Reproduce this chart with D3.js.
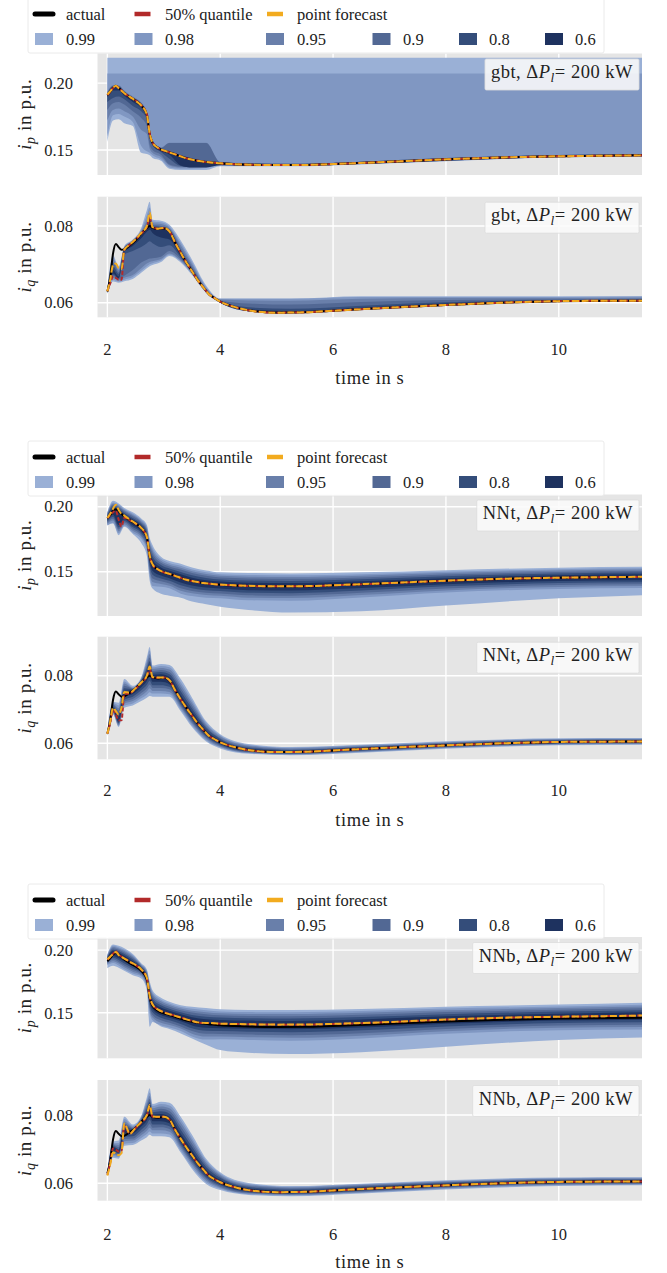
<!DOCTYPE html>
<html>
<head>
<meta charset="utf-8">
<script src="https://cdn.jsdelivr.net/npm/d3@7"></script>
<style>
  body { margin: 0; background: #fff; }
  svg { display: block; }
  text { font-family: "Liberation Serif", "DejaVu Serif", serif; fill: #222; }
</style>
</head>
<body>
<svg id="chart" width="667" height="1273"></svg>
<script>
// ---------------------------------------------------------------------------
// Data
// ---------------------------------------------------------------------------
const models = ["gbt", "NNt", "NNb"];
const levels = ["0.99", "0.98", "0.95", "0.9", "0.8", "0.6"];
const timeLimits = [1.825, 11.475];
const timeTicks = [2, 4, 6, 8, 10];
const ipTicks = [0.15, 0.20];
const iqTicks = [0.06, 0.08];
const ipLimits = [[0.1313, 0.2222], [0.1159, 0.2094], [0.1136, 0.2105]];
const iqLimits = [[0.05619, 0.08764], [0.05527, 0.09154], [0.0549, 0.09025]];

// time stamps of the trajectories (s)
const lineTime = [2.0, 2.05, 2.1, 2.15, 2.2, 2.25, 2.3, 2.4, 2.5, 2.6, 2.7, 2.75, 2.8, 2.9, 3.0, 3.1, 3.2, 3.3, 3.4, 3.5,
  3.6, 3.7, 3.8, 3.9, 4.0, 4.25, 4.5, 5.0, 5.5, 6.0, 7.0, 8.0, 9.0, 10.0, 11.0, 11.5];

const ipActual = [0.1912, 0.1935, 0.1965, 0.198, 0.1965, 0.1945, 0.1925, 0.1895, 0.187, 0.1835, 0.1765, 0.162, 0.1555, 0.1515, 0.1495, 0.1482, 0.1468, 0.1452, 0.1438, 0.1428,
  0.142, 0.1413, 0.1408, 0.1404, 0.140, 0.1394, 0.139, 0.1387, 0.1388, 0.1395, 0.1412, 0.143, 0.1444, 0.1453, 0.1458, 0.146];
const iqActual = [0.0629, 0.0665, 0.0728, 0.0753, 0.0745, 0.0738, 0.0739, 0.075, 0.0763, 0.078, 0.0795, 0.08, 0.0795, 0.0792, 0.0794, 0.0786, 0.0757, 0.073, 0.0705, 0.0682,
  0.0659, 0.064, 0.0622, 0.0612, 0.0603, 0.0589, 0.058, 0.0574, 0.0575, 0.0579, 0.0587, 0.0594, 0.06, 0.0604, 0.0605, 0.0605];

const gbtIpMedian = [0.1912, 0.1935, 0.1963, 0.1978, 0.1965, 0.1945, 0.1925, 0.1895, 0.187, 0.1835, 0.1768, 0.1625, 0.1555, 0.1515, 0.1495, 0.1482, 0.1468, 0.1452, 0.1438, 0.1428,
  0.142, 0.1413, 0.1408, 0.1404, 0.140, 0.1394, 0.139, 0.1387, 0.1388, 0.1395, 0.1412, 0.143, 0.1444, 0.1453, 0.1458, 0.146];
const gbtIpPoint = [0.1915, 0.1938, 0.1965, 0.198, 0.1963, 0.1943, 0.1925, 0.1897, 0.1868, 0.1833, 0.1765, 0.1622, 0.1557, 0.1515, 0.1497, 0.1482, 0.1467, 0.1452, 0.1437, 0.1428,
  0.142, 0.1413, 0.1408, 0.1404, 0.140, 0.1394, 0.139, 0.1387, 0.1388, 0.1395, 0.1412, 0.143, 0.1444, 0.1453, 0.1458, 0.146];
const gbtIqMedian = [0.063, 0.065, 0.0668, 0.0665, 0.066, 0.066, 0.0738, 0.0752, 0.0765, 0.078, 0.0798, 0.082, 0.0797, 0.0793, 0.0795, 0.0786, 0.0757, 0.073, 0.0705, 0.0682,
  0.0659, 0.064, 0.0622, 0.0612, 0.0603, 0.0589, 0.058, 0.0574, 0.0575, 0.0579, 0.0587, 0.0594, 0.06, 0.0604, 0.0605, 0.0605];
const gbtIqPoint = [0.063, 0.066, 0.0698, 0.0702, 0.069, 0.0688, 0.0738, 0.0752, 0.0765, 0.0782, 0.08, 0.0835, 0.0797, 0.0793, 0.0795, 0.0786, 0.0757, 0.073, 0.0705, 0.0682,
  0.0659, 0.064, 0.0622, 0.0612, 0.0603, 0.0589, 0.058, 0.0574, 0.0575, 0.0579, 0.0587, 0.0594, 0.06, 0.0604, 0.0605, 0.0605];

const nntIpMedian = [0.1912, 0.1935, 0.1958, 0.1968, 0.19, 0.1848, 0.1915, 0.1895, 0.187, 0.1835, 0.1765, 0.162, 0.1555, 0.1515, 0.1495, 0.1482, 0.1468, 0.1452, 0.1438, 0.1428,
  0.142, 0.1413, 0.1408, 0.1404, 0.140, 0.1394, 0.139, 0.1387, 0.1388, 0.1395, 0.1412, 0.143, 0.1444, 0.1453, 0.1458, 0.146];
const nntIpPoint = [0.1915, 0.1945, 0.1985, 0.2015, 0.1975, 0.1945, 0.1932, 0.19, 0.1872, 0.1837, 0.1768, 0.1625, 0.1557, 0.1517, 0.1496, 0.1483, 0.1468, 0.1452, 0.1438, 0.1428,
  0.142, 0.1413, 0.1408, 0.1404, 0.1401, 0.1395, 0.1391, 0.1388, 0.1389, 0.1396, 0.1413, 0.1431, 0.1445, 0.1454, 0.1459, 0.1461];
const nntIqMedian = [0.0628, 0.066, 0.0698, 0.0685, 0.0668, 0.0668, 0.0745, 0.0748, 0.0762, 0.0778, 0.0798, 0.0818, 0.0795, 0.0794, 0.0795, 0.0786, 0.0757, 0.073, 0.0705, 0.0682,
  0.0659, 0.064, 0.0622, 0.0612, 0.0603, 0.0589, 0.058, 0.0574, 0.0575, 0.0579, 0.0587, 0.0594, 0.06, 0.0604, 0.0605, 0.0605];
const nntIqPoint = [0.0628, 0.0665, 0.0705, 0.0695, 0.0685, 0.0705, 0.0752, 0.075, 0.0763, 0.078, 0.08, 0.0827, 0.0796, 0.0795, 0.0795, 0.0787, 0.0757, 0.073, 0.0705, 0.0682,
  0.0659, 0.064, 0.0622, 0.0612, 0.0603, 0.0589, 0.058, 0.0574, 0.0575, 0.0579, 0.0587, 0.0594, 0.06, 0.0604, 0.0605, 0.0605];

const nnbIpMedian = [0.1925, 0.1945, 0.1972, 0.1992, 0.1965, 0.1947, 0.1935, 0.1905, 0.188, 0.1845, 0.1775, 0.163, 0.1565, 0.1525, 0.1505, 0.149, 0.1476, 0.1462, 0.1448, 0.1435,
  0.1422, 0.1418, 0.1418, 0.1416, 0.1413, 0.141, 0.1408, 0.1405, 0.1405, 0.141, 0.1425, 0.1445, 0.146, 0.1468, 0.1474, 0.1478];
const nnbIpPoint = [0.1928, 0.1948, 0.1968, 0.1985, 0.1962, 0.1945, 0.1933, 0.1907, 0.1882, 0.1847, 0.1778, 0.1635, 0.1567, 0.1525, 0.1503, 0.1488, 0.1475, 0.1461, 0.1447, 0.1434,
  0.1423, 0.1419, 0.1418, 0.1416, 0.1413, 0.141, 0.1408, 0.1405, 0.1406, 0.1411, 0.1426, 0.1446, 0.146, 0.1468, 0.1474, 0.1478];
const nnbIqMedian = [0.0625, 0.066, 0.0702, 0.0698, 0.0693, 0.0695, 0.0768, 0.0745, 0.0762, 0.0778, 0.0798, 0.0825, 0.0795, 0.0794, 0.0795, 0.0786, 0.0757, 0.073, 0.0705, 0.0682,
  0.0659, 0.064, 0.0622, 0.0612, 0.0603, 0.0589, 0.058, 0.0574, 0.0575, 0.0579, 0.0587, 0.0594, 0.06, 0.0604, 0.0605, 0.0605];
const nnbIqPoint = [0.0623, 0.0655, 0.069, 0.0688, 0.0682, 0.0688, 0.0775, 0.0745, 0.0763, 0.078, 0.08, 0.0829, 0.0796, 0.0795, 0.0795, 0.0787, 0.0757, 0.073, 0.0705, 0.0682,
  0.0659, 0.064, 0.0622, 0.0612, 0.0603, 0.0589, 0.058, 0.0574, 0.0575, 0.0579, 0.0587, 0.0594, 0.06, 0.0604, 0.0605, 0.0605];

// time stamps of the prediction intervals (s)
const bandTime = [2.0, 2.1, 2.2, 2.3, 2.45, 2.6, 2.7, 2.75, 2.8, 2.95, 3.1, 3.3, 3.5, 3.75, 4.0, 4.5, 5.25, 6.5, 8.0, 10.0, 11.5];

// interval bounds, one row per level (0.99, 0.98, 0.95, 0.9, 0.8, 0.6)
const gbtIpUpper = [
  [0.219, 0.219, 0.219, 0.219, 0.219, 0.219, 0.219, 0.219, 0.219, 0.219, 0.219, 0.219, 0.219, 0.219, 0.219, 0.219, 0.219, 0.219, 0.219, 0.219, 0.219],
  [0.2072, 0.2072, 0.2072, 0.2072, 0.2072, 0.2072, 0.2072, 0.2072, 0.2072, 0.2072, 0.2072, 0.2072, 0.2072, 0.2072, 0.2072, 0.2072, 0.2072, 0.2072, 0.2072, 0.2072, 0.2072],
  [0.1935, 0.1985, 0.1985, 0.1945, 0.19, 0.1855, 0.1785, 0.1645, 0.1575, 0.152, 0.1555, 0.1555, 0.1555, 0.1555, 0.1412, 0.1402, 0.1398, 0.1413, 0.144, 0.1462, 0.1468],
  [0.1928, 0.1978, 0.1978, 0.1938, 0.1894, 0.1848, 0.1778, 0.1636, 0.1568, 0.1514, 0.1552, 0.1552, 0.1552, 0.1552, 0.1408, 0.1397, 0.1394, 0.141, 0.1437, 0.146, 0.1466],
  [0.1922, 0.1975, 0.1975, 0.1935, 0.1892, 0.1845, 0.1775, 0.163, 0.1565, 0.1515, 0.1492, 0.1462, 0.1438, 0.142, 0.141, 0.14, 0.1397, 0.1413, 0.144, 0.1463, 0.147],
  [0.1917, 0.197, 0.197, 0.193, 0.1887, 0.184, 0.177, 0.1625, 0.156, 0.151, 0.1487, 0.1457, 0.1433, 0.1415, 0.1405, 0.1395, 0.1392, 0.1408, 0.1435, 0.1458, 0.1465]
];
const gbtIpLower = [
  [0.156, 0.172, 0.173, 0.170, 0.168, 0.148, 0.147, 0.146, 0.144, 0.142, 0.136, 0.135, 0.135, 0.135, 0.1378, 0.1378, 0.1378, 0.1392, 0.1415, 0.1445, 0.1452],
  [0.160, 0.176, 0.177, 0.175, 0.171, 0.153, 0.149, 0.148, 0.146, 0.143, 0.137, 0.136, 0.136, 0.1365, 0.1382, 0.1382, 0.1381, 0.1395, 0.1418, 0.1447, 0.1453],
  [0.172, 0.180, 0.181, 0.179, 0.175, 0.165, 0.162, 0.151, 0.148, 0.1448, 0.1385, 0.137, 0.137, 0.1375, 0.1385, 0.1384, 0.1383, 0.1397, 0.142, 0.1449, 0.1455],
  [0.180, 0.185, 0.186, 0.184, 0.179, 0.174, 0.168, 0.154, 0.150, 0.1465, 0.1392, 0.1375, 0.1372, 0.138, 0.1388, 0.1386, 0.1385, 0.1399, 0.1423, 0.145, 0.1456],
  [0.186, 0.189, 0.190, 0.188, 0.183, 0.179, 0.173, 0.159, 0.1535, 0.1485, 0.1435, 0.138, 0.1372, 0.1378, 0.1392, 0.1388, 0.1386, 0.1401, 0.1426, 0.1451, 0.1457],
  [0.1895, 0.1945, 0.1945, 0.1905, 0.186, 0.1815, 0.1745, 0.160, 0.1538, 0.149, 0.1465, 0.1385, 0.137, 0.137, 0.1388, 0.1382, 0.138, 0.1395, 0.142, 0.1446, 0.1453]
];
const gbtIqUpper = [
  [0.0636, 0.0724, 0.0694, 0.0748, 0.0765, 0.0795, 0.0842, 0.0863, 0.0816, 0.0814, 0.0803, 0.0762, 0.0712, 0.0645, 0.0611, 0.0611, 0.0611, 0.0617, 0.0617, 0.0617, 0.0617],
  [0.0635, 0.0718, 0.069, 0.0746, 0.0763, 0.079, 0.0828, 0.0848, 0.0812, 0.081, 0.0799, 0.0756, 0.0706, 0.0641, 0.061, 0.061, 0.061, 0.0615, 0.0615, 0.0615, 0.0616],
  [0.0634, 0.0712, 0.0685, 0.0744, 0.0761, 0.0786, 0.0815, 0.0835, 0.0808, 0.0805, 0.0795, 0.075, 0.07, 0.0637, 0.0608, 0.0606, 0.0605, 0.061, 0.0612, 0.0612, 0.0613],
  [0.0633, 0.0705, 0.068, 0.0743, 0.076, 0.0784, 0.0806, 0.0828, 0.0803, 0.08, 0.0792, 0.0742, 0.0694, 0.0635, 0.0606, 0.0598, 0.0595, 0.0602, 0.0607, 0.0609, 0.061],
  [0.0632, 0.0695, 0.0675, 0.0742, 0.0759, 0.0783, 0.0802, 0.0824, 0.08, 0.0797, 0.0789, 0.0736, 0.0689, 0.0634, 0.0605, 0.0588, 0.0584, 0.0592, 0.0601, 0.0607, 0.0608],
  [0.0631, 0.0685, 0.0668, 0.0741, 0.0758, 0.0782, 0.08, 0.0822, 0.0798, 0.0795, 0.0788, 0.0733, 0.0686, 0.0633, 0.0604, 0.0583, 0.0578, 0.0587, 0.0598, 0.0606, 0.0607]
];
const gbtIqLower = [
  [0.0623, 0.0655, 0.0652, 0.0656, 0.0662, 0.0678, 0.069, 0.0695, 0.0698, 0.0706, 0.0722, 0.0705, 0.0672, 0.0625, 0.0599, 0.0578, 0.0572, 0.0581, 0.0592, 0.0602, 0.0603],
  [0.0624, 0.066, 0.0655, 0.066, 0.0667, 0.0683, 0.0695, 0.07, 0.0703, 0.071, 0.0725, 0.0708, 0.0675, 0.0627, 0.06, 0.0578, 0.0572, 0.0581, 0.0592, 0.0602, 0.0603],
  [0.0625, 0.0665, 0.0658, 0.0665, 0.0672, 0.069, 0.0702, 0.0706, 0.0708, 0.0714, 0.0728, 0.071, 0.0677, 0.0628, 0.06, 0.0578, 0.0573, 0.0581, 0.0592, 0.0602, 0.0603],
  [0.0626, 0.067, 0.0661, 0.067, 0.0685, 0.0705, 0.0712, 0.0715, 0.0716, 0.072, 0.0735, 0.0714, 0.0679, 0.0629, 0.0601, 0.0578, 0.0573, 0.0582, 0.0593, 0.0603, 0.0604],
  [0.0627, 0.0673, 0.0663, 0.0725, 0.0735, 0.0745, 0.0755, 0.076, 0.0755, 0.0745, 0.075, 0.0718, 0.068, 0.063, 0.0601, 0.0579, 0.0573, 0.0582, 0.0593, 0.0603, 0.0604],
  [0.0628, 0.0676, 0.0664, 0.0732, 0.0748, 0.0768, 0.0785, 0.079, 0.0782, 0.077, 0.0765, 0.0722, 0.0679, 0.063, 0.0602, 0.0579, 0.0573, 0.0582, 0.0593, 0.0603, 0.0604]
];

const nntIpUpper = [
  [0.196, 0.2045, 0.2025, 0.199, 0.1957, 0.191, 0.186, 0.176, 0.1705, 0.1615, 0.1582, 0.1562, 0.1533, 0.151, 0.1495, 0.149, 0.1487, 0.1495, 0.1512, 0.1531, 0.1538],
  [0.1955, 0.2033, 0.2015, 0.198, 0.1946, 0.1899, 0.1846, 0.1739, 0.1683, 0.1599, 0.1567, 0.1546, 0.1517, 0.1495, 0.1481, 0.1475, 0.1472, 0.1481, 0.15, 0.1519, 0.1526],
  [0.1948, 0.2023, 0.2005, 0.1972, 0.1936, 0.1889, 0.1833, 0.1721, 0.1663, 0.1584, 0.1554, 0.1531, 0.1504, 0.1482, 0.1468, 0.1462, 0.1459, 0.1469, 0.1489, 0.1509, 0.1516],
  [0.1941, 0.2011, 0.1996, 0.1963, 0.1926, 0.1879, 0.182, 0.1701, 0.1642, 0.1569, 0.154, 0.1516, 0.1489, 0.1468, 0.1455, 0.1448, 0.1445, 0.1456, 0.1478, 0.1498, 0.1505],
  [0.1933, 0.1999, 0.1984, 0.1952, 0.1914, 0.1867, 0.1805, 0.1679, 0.1618, 0.1551, 0.1524, 0.1498, 0.1472, 0.1452, 0.144, 0.1432, 0.1429, 0.1442, 0.1464, 0.1486, 0.1493],
  [0.1925, 0.1985, 0.1973, 0.1941, 0.1901, 0.1854, 0.1789, 0.1655, 0.1593, 0.1533, 0.1507, 0.148, 0.1454, 0.1435, 0.1424, 0.1415, 0.1412, 0.1426, 0.145, 0.1473, 0.148]
];
const nntIpLower = [
  [0.1855, 0.187, 0.178, 0.1845, 0.179, 0.172, 0.162, 0.143, 0.137, 0.133, 0.1315, 0.130, 0.127, 0.125, 0.123, 0.1205, 0.1185, 0.1195, 0.124, 0.1295, 0.132],
  [0.1857, 0.1877, 0.1795, 0.1854, 0.18, 0.1753, 0.166, 0.1466, 0.139, 0.1384, 0.1372, 0.1331, 0.1313, 0.130, 0.1296, 0.128, 0.1277, 0.1302, 0.134, 0.1367, 0.1374],
  [0.1867, 0.1893, 0.181, 0.1866, 0.1815, 0.1768, 0.168, 0.1494, 0.142, 0.1406, 0.1392, 0.1353, 0.1334, 0.132, 0.1315, 0.130, 0.1297, 0.132, 0.1356, 0.1383, 0.139],
  [0.1876, 0.1907, 0.1825, 0.1878, 0.1828, 0.1781, 0.1697, 0.1519, 0.1447, 0.1426, 0.141, 0.1373, 0.1352, 0.1338, 0.1332, 0.1318, 0.1315, 0.1337, 0.1371, 0.1397, 0.1404],
  [0.1886, 0.1923, 0.184, 0.1891, 0.1843, 0.1796, 0.1716, 0.1547, 0.1477, 0.1448, 0.143, 0.1395, 0.1373, 0.1358, 0.1351, 0.1338, 0.1335, 0.1355, 0.1387, 0.1412, 0.1419],
  [0.1896, 0.1939, 0.186, 0.1904, 0.1858, 0.1811, 0.1735, 0.1575, 0.1507, 0.147, 0.145, 0.1417, 0.1394, 0.1378, 0.137, 0.1358, 0.1355, 0.1374, 0.1404, 0.1428, 0.1435]
];
const nntIqUpper = [
  [0.0637, 0.0723, 0.072, 0.079, 0.077, 0.0795, 0.0855, 0.0885, 0.083, 0.0835, 0.0832, 0.079, 0.0735, 0.0665, 0.0627, 0.0598, 0.0589, 0.0596, 0.0606, 0.0615, 0.0616],
  [0.0636, 0.072, 0.0712, 0.0783, 0.0766, 0.0792, 0.0846, 0.0875, 0.0825, 0.0829, 0.0825, 0.0781, 0.0727, 0.066, 0.0623, 0.0595, 0.0587, 0.0594, 0.0604, 0.0613, 0.0614],
  [0.0634, 0.0716, 0.0704, 0.0777, 0.0764, 0.079, 0.0838, 0.0864, 0.082, 0.0823, 0.0818, 0.0772, 0.0719, 0.0655, 0.062, 0.0593, 0.0585, 0.0592, 0.0602, 0.0612, 0.0613],
  [0.0633, 0.0713, 0.0697, 0.077, 0.0762, 0.0787, 0.0829, 0.0854, 0.0814, 0.0817, 0.0811, 0.0763, 0.0711, 0.065, 0.0616, 0.059, 0.0582, 0.059, 0.0601, 0.061, 0.0611],
  [0.0632, 0.0709, 0.0689, 0.0763, 0.076, 0.0785, 0.0821, 0.0843, 0.0809, 0.0811, 0.0804, 0.0754, 0.0703, 0.0645, 0.0613, 0.0587, 0.058, 0.0588, 0.0599, 0.0608, 0.0609],
  [0.063, 0.0705, 0.0679, 0.0755, 0.0758, 0.0782, 0.0811, 0.083, 0.0803, 0.0804, 0.0796, 0.0743, 0.0694, 0.0638, 0.0608, 0.0584, 0.0577, 0.0586, 0.0597, 0.0606, 0.0607]
];
const nntIqLower = [
  [0.0622, 0.0685, 0.0648, 0.0705, 0.0712, 0.0725, 0.0735, 0.074, 0.0738, 0.0738, 0.0738, 0.0695, 0.0648, 0.0605, 0.0585, 0.0569, 0.0565, 0.0572, 0.0584, 0.0594, 0.0596],
  [0.0623, 0.0687, 0.0651, 0.0711, 0.0718, 0.0733, 0.0744, 0.0751, 0.0747, 0.0747, 0.0745, 0.07, 0.0653, 0.0609, 0.0588, 0.0571, 0.0566, 0.0574, 0.0586, 0.0596, 0.0597],
  [0.0624, 0.069, 0.0654, 0.0717, 0.0725, 0.0741, 0.0754, 0.0763, 0.0755, 0.0755, 0.0752, 0.0706, 0.0658, 0.0613, 0.059, 0.0572, 0.0568, 0.0575, 0.0587, 0.0597, 0.0599],
  [0.0625, 0.0692, 0.0657, 0.0723, 0.0731, 0.0749, 0.0763, 0.0774, 0.0764, 0.0764, 0.076, 0.0711, 0.0663, 0.0617, 0.0593, 0.0574, 0.0569, 0.0577, 0.0589, 0.0599, 0.06],
  [0.0626, 0.0694, 0.066, 0.0729, 0.0738, 0.0757, 0.0773, 0.0785, 0.0772, 0.0772, 0.0767, 0.0716, 0.0668, 0.0621, 0.0596, 0.0576, 0.057, 0.0579, 0.059, 0.06, 0.0601],
  [0.0627, 0.0697, 0.0664, 0.0736, 0.0746, 0.0766, 0.0784, 0.0799, 0.0782, 0.0782, 0.0775, 0.0722, 0.0675, 0.0625, 0.0599, 0.0578, 0.0572, 0.0581, 0.0592, 0.0602, 0.0603]
];

const nnbIpUpper = [
  [0.1965, 0.2045, 0.2035, 0.2015, 0.197, 0.1895, 0.1845, 0.175, 0.168, 0.162, 0.1588, 0.156, 0.1548, 0.1538, 0.1527, 0.1522, 0.1521, 0.153, 0.1548, 0.1565, 0.158],
  [0.1959, 0.2035, 0.2024, 0.2003, 0.1959, 0.1888, 0.1835, 0.1732, 0.1663, 0.1604, 0.1573, 0.1545, 0.1531, 0.152, 0.151, 0.1505, 0.1504, 0.1513, 0.1533, 0.155, 0.1565],
  [0.1954, 0.2025, 0.2014, 0.1993, 0.1949, 0.1881, 0.1825, 0.1716, 0.1648, 0.1591, 0.1561, 0.1533, 0.1516, 0.1504, 0.1495, 0.149, 0.1489, 0.1499, 0.1519, 0.1538, 0.1551],
  [0.1948, 0.2016, 0.2004, 0.1981, 0.1939, 0.1874, 0.1816, 0.170, 0.1632, 0.1576, 0.1547, 0.1519, 0.1501, 0.1488, 0.1479, 0.1474, 0.1472, 0.1483, 0.1505, 0.1524, 0.1537],
  [0.1942, 0.2004, 0.1992, 0.1969, 0.1927, 0.1866, 0.1804, 0.168, 0.1613, 0.1559, 0.1531, 0.1503, 0.1482, 0.1468, 0.1461, 0.1456, 0.1454, 0.1465, 0.1488, 0.1509, 0.1521],
  [0.1935, 0.1993, 0.1979, 0.1955, 0.1914, 0.1858, 0.1793, 0.166, 0.1594, 0.1541, 0.1515, 0.1487, 0.1463, 0.1448, 0.1442, 0.1437, 0.1434, 0.1446, 0.1471, 0.1492, 0.1504]
];
const nnbIpLower = [
  [0.1855, 0.1875, 0.186, 0.1835, 0.18, 0.1774, 0.168, 0.1388, 0.1425, 0.139, 0.137, 0.1335, 0.1295, 0.1245, 0.1202, 0.118, 0.117, 0.1185, 0.1229, 0.1282, 0.1303],
  [0.1881, 0.1898, 0.1878, 0.1847, 0.1813, 0.179, 0.1698, 0.1498, 0.1439, 0.140, 0.1382, 0.1354, 0.1311, 0.1286, 0.1288, 0.1283, 0.1277, 0.1295, 0.1332, 0.1361, 0.1366],
  [0.1889, 0.1912, 0.1893, 0.1863, 0.1828, 0.18, 0.1712, 0.1522, 0.1462, 0.142, 0.1402, 0.1374, 0.1333, 0.131, 0.131, 0.1305, 0.130, 0.1317, 0.1352, 0.1381, 0.1386],
  [0.1896, 0.1925, 0.1906, 0.1877, 0.1841, 0.1809, 0.1725, 0.1544, 0.1482, 0.1439, 0.1419, 0.1391, 0.1354, 0.1332, 0.1331, 0.1326, 0.1321, 0.1337, 0.1371, 0.1398, 0.1405],
  [0.1904, 0.1939, 0.1921, 0.1893, 0.1856, 0.1819, 0.1739, 0.1568, 0.1505, 0.146, 0.1439, 0.1411, 0.1376, 0.1356, 0.1354, 0.1349, 0.1345, 0.136, 0.1391, 0.1418, 0.1425],
  [0.1912, 0.1953, 0.1936, 0.1909, 0.1871, 0.1829, 0.1753, 0.1592, 0.1528, 0.1481, 0.1459, 0.1431, 0.1399, 0.138, 0.1377, 0.1372, 0.1368, 0.1382, 0.1412, 0.1437, 0.1445]
];
const nnbIqUpper = [
  [0.0635, 0.0722, 0.0725, 0.0795, 0.0772, 0.0797, 0.0852, 0.0878, 0.0832, 0.0839, 0.0836, 0.0795, 0.0742, 0.0672, 0.0632, 0.0601, 0.0592, 0.0599, 0.0609, 0.0617, 0.0618],
  [0.0634, 0.0718, 0.0718, 0.0788, 0.0768, 0.0794, 0.0843, 0.0866, 0.0826, 0.0832, 0.0828, 0.0786, 0.0733, 0.0666, 0.0628, 0.0598, 0.059, 0.0597, 0.0607, 0.0615, 0.0616],
  [0.0632, 0.0715, 0.0712, 0.0781, 0.0765, 0.0791, 0.0835, 0.0856, 0.082, 0.0825, 0.082, 0.0777, 0.0725, 0.066, 0.0624, 0.0595, 0.0588, 0.0595, 0.0605, 0.0613, 0.0614],
  [0.063, 0.0712, 0.0706, 0.0775, 0.0762, 0.0788, 0.0827, 0.0847, 0.0814, 0.0818, 0.0812, 0.0767, 0.0716, 0.0654, 0.062, 0.0592, 0.0585, 0.0593, 0.0603, 0.0611, 0.0612],
  [0.0629, 0.0709, 0.07, 0.0768, 0.0759, 0.0785, 0.0819, 0.0838, 0.0808, 0.0811, 0.0804, 0.0757, 0.0707, 0.0648, 0.0616, 0.0589, 0.0582, 0.059, 0.0601, 0.0609, 0.061],
  [0.0627, 0.0706, 0.0697, 0.076, 0.0755, 0.0782, 0.081, 0.0831, 0.0801, 0.0803, 0.0795, 0.0745, 0.0697, 0.064, 0.061, 0.0585, 0.0578, 0.0587, 0.0598, 0.0607, 0.0608]
];
const nnbIqLower = [
  [0.062, 0.0675, 0.0672, 0.071, 0.0712, 0.0725, 0.0735, 0.0742, 0.0738, 0.0738, 0.0735, 0.069, 0.0642, 0.0598, 0.058, 0.0566, 0.0562, 0.057, 0.0582, 0.0592, 0.0594],
  [0.0621, 0.0679, 0.0676, 0.0716, 0.0718, 0.0733, 0.0744, 0.0752, 0.0746, 0.0746, 0.0743, 0.0696, 0.0648, 0.0603, 0.0584, 0.0568, 0.0564, 0.0572, 0.0584, 0.0594, 0.0596],
  [0.0622, 0.0684, 0.068, 0.0723, 0.0725, 0.0741, 0.0754, 0.0763, 0.0755, 0.0755, 0.0751, 0.0703, 0.0655, 0.0608, 0.0587, 0.057, 0.0566, 0.0574, 0.0586, 0.0596, 0.0598],
  [0.0623, 0.0688, 0.0684, 0.073, 0.0731, 0.0749, 0.0763, 0.0774, 0.0763, 0.0764, 0.0759, 0.0709, 0.0661, 0.0613, 0.059, 0.0572, 0.0568, 0.0576, 0.0588, 0.0598, 0.0599],
  [0.0624, 0.0692, 0.0687, 0.0737, 0.0738, 0.0757, 0.0773, 0.0786, 0.0772, 0.0772, 0.0767, 0.0715, 0.0667, 0.0618, 0.0594, 0.0574, 0.0569, 0.0578, 0.059, 0.06, 0.0601],
  [0.0625, 0.0696, 0.069, 0.0745, 0.0746, 0.0766, 0.0784, 0.08, 0.0782, 0.0782, 0.0776, 0.0722, 0.0673, 0.0624, 0.0598, 0.0577, 0.0571, 0.058, 0.0592, 0.0602, 0.0603]
];

// ---------------------------------------------------------------------------
// Styling and layout
// ---------------------------------------------------------------------------
const bandColors = ["#9ab0d6", "#8097c2", "#697faa", "#526894", "#344d7a", "#1e325f"];
const actualColor = "#000000", medianColor = "#b22a2a", pointColor = "#f2ab1f";
const plotBg = "#e5e5e5";
const plotLeft = 97.5, plotRight = 642;

const layout = [
  { ip: [53.5, 175], iq: [196.7, 317.3], tickY: 349, labelY: 378, legendTop: -2 },
  { ip: [494.5, 616], iq: [636.7, 759.3], tickY: 790.7, labelY: 820, legendTop: 441 },
  { ip: [937, 1058.3], iq: [1080, 1200.7], tickY: 1234, labelY: 1261.7, legendTop: 884 }
];

const series = [
  { ip: { median: gbtIpMedian, point: gbtIpPoint, lower: gbtIpLower, upper: gbtIpUpper },
    iq: { median: gbtIqMedian, point: gbtIqPoint, lower: gbtIqLower, upper: gbtIqUpper } },
  { ip: { median: nntIpMedian, point: nntIpPoint, lower: nntIpLower, upper: nntIpUpper },
    iq: { median: nntIqMedian, point: nntIqPoint, lower: nntIqLower, upper: nntIqUpper } },
  { ip: { median: nnbIpMedian, point: nnbIpPoint, lower: nnbIpLower, upper: nnbIpUpper },
    iq: { median: nnbIqMedian, point: nnbIqPoint, lower: nnbIqLower, upper: nnbIqUpper } }
];

const svg = d3.select("#chart");
const defs = svg.append("defs");
const x = d3.scaleLinear().domain(timeLimits).range([plotLeft, plotRight]);
let clipId = 0;

function drawPanel(modelIdx, variable, frame, limits, ticks, actual) {
  const [top, bottom] = frame;
  const y = d3.scaleLinear().domain(limits).range([bottom, top]);
  const data = series[modelIdx][variable];
  const g = svg.append("g");

  const id = "clip" + (clipId++);
  defs.append("clipPath").attr("id", id)
    .append("rect").attr("x", plotLeft).attr("y", top)
    .attr("width", plotRight - plotLeft).attr("height", bottom - top);

  g.append("rect").attr("x", plotLeft).attr("y", top)
    .attr("width", plotRight - plotLeft).attr("height", bottom - top).attr("fill", plotBg);

  // grid
  g.append("g").selectAll("line").data(timeTicks).join("line")
    .attr("x1", d => x(d)).attr("x2", d => x(d)).attr("y1", top).attr("y2", bottom)
    .attr("stroke", "#fff").attr("stroke-width", 1.4);
  g.append("g").selectAll("line").data(ticks).join("line")
    .attr("x1", plotLeft).attr("x2", plotRight).attr("y1", d => y(d)).attr("y2", d => y(d))
    .attr("stroke", "#fff").attr("stroke-width", 1.4);

  const inner = g.append("g").attr("clip-path", `url(#${id})`);

  // prediction intervals, widest first
  levels.forEach((lvl, k) => {
    const area = d3.area()
      .x((d, i) => x(bandTime[i]))
      .y0((d, i) => y(data.lower[k][i]))
      .y1((d, i) => y(data.upper[k][i]))
      .curve(d3.curveMonotoneX);
    inner.append("path").attr("d", area(bandTime)).attr("fill", bandColors[k]);
  });

  const line = vals => d3.line()
    .x((d, i) => x(lineTime[i]))
    .y((d, i) => y(vals[i]))
    .curve(d3.curveMonotoneX)(lineTime);

  inner.append("path").attr("d", line(actual)).attr("fill", "none")
    .attr("stroke", actualColor).attr("stroke-width", 2);
  inner.append("path").attr("d", line(data.median)).attr("fill", "none")
    .attr("stroke", medianColor).attr("stroke-width", 2).attr("stroke-dasharray", "4,2");
  inner.append("path").attr("d", line(data.point)).attr("fill", "none")
    .attr("stroke", pointColor).attr("stroke-width", 2).attr("stroke-dasharray", "7,2.5");

  // y tick labels
  g.append("g").selectAll("text").data(ticks).join("text")
    .attr("x", 73).attr("y", d => y(d)).attr("dy", "0.35em")
    .attr("text-anchor", "end").attr("font-size", 16.5)
    .text(d => d.toFixed(2));

  // y axis label
  const yl = g.append("text")
    .attr("transform", `translate(31,${(top + bottom) / 2}) rotate(-90)`)
    .attr("text-anchor", "middle").attr("font-size", 19).attr("letter-spacing", 0.6);
  yl.append("tspan").attr("font-style", "italic").text("i");
  yl.append("tspan").attr("font-style", "italic").attr("font-size", 14).attr("dy", 4).text(variable === "ip" ? "p" : "q");
  yl.append("tspan").attr("dy", -4).text(" in p.u.");

  // model annotation
  const ann = g.append("g");
  const box = ann.append("rect").attr("fill", "#fafafa").attr("fill-opacity", 0.88)
    .attr("stroke", "#dcdcdc").attr("stroke-width", 0.8).attr("rx", 1.5);
  const t = ann.append("text").attr("font-size", 18.5).attr("letter-spacing", 0.5).attr("y", top + 24.5);
  t.append("tspan").text(models[modelIdx] + ", \u0394");
  t.append("tspan").attr("font-style", "italic").text("P");
  t.append("tspan").attr("font-style", "italic").attr("font-size", 13.5).attr("dy", 4).text("l");
  t.append("tspan").attr("dy", -4).text("= 200 kW");
  const w = t.node().getComputedTextLength();
  t.attr("x", 639 - 6 - w);
  box.attr("x", 639 - w - 12).attr("y", top + 5.5).attr("width", w + 12).attr("height", 31);
  return y;
}

function drawLegend(top) {
  const g = svg.append("g");
  g.append("rect").attr("x", 28).attr("y", top).attr("width", 576).attr("height", 55)
    .attr("fill", "#fff").attr("fill-opacity", 0.85).attr("stroke", "#e4e4e4").attr("stroke-width", 0.8).attr("rx", 2);
  const r1 = top + 16, r2 = top + 41;
  const lineItems = [
    { label: "actual", color: actualColor, x0: 35, x1: 53, w: 5, cap: "round", tx: 66 },
    { label: "50% quantile", color: medianColor, x0: 134.5, x1: 150.5, w: 4.5, cap: "butt", tx: 165 },
    { label: "point forecast", color: pointColor, x0: 267, x1: 283, w: 4.5, cap: "butt", tx: 297 }
  ];
  lineItems.forEach(it => {
    g.append("line").attr("x1", it.x0).attr("x2", it.x1).attr("y1", r1).attr("y2", r1)
      .attr("stroke", it.color).attr("stroke-width", it.w).attr("stroke-linecap", it.cap);
    g.append("text").attr("x", it.tx).attr("y", r1).attr("dy", "0.35em").attr("font-size", 16.5).text(it.label);
  });
  const swX = [35, 134.5, 266, 372.5, 459, 545];
  const txX = [66, 165, 297, 403, 489, 575];
  levels.forEach((lvl, k) => {
    g.append("rect").attr("x", swX[k]).attr("y", r2 - 6).attr("width", 18).attr("height", 12).attr("fill", bandColors[k]);
    g.append("text").attr("x", txX[k]).attr("y", r2).attr("dy", "0.35em").attr("font-size", 16.5).text(lvl);
  });
}

models.forEach((m, k) => {
  const L = layout[k];
  drawPanel(k, "ip", L.ip, ipLimits[k], ipTicks, ipActual);
  drawPanel(k, "iq", L.iq, iqLimits[k], iqTicks, iqActual);

  svg.append("g").selectAll("text").data(timeTicks).join("text")
    .attr("x", d => x(d)).attr("y", L.tickY).attr("dy", "0.35em")
    .attr("text-anchor", "middle").attr("font-size", 16.5).text(d => d);
  svg.append("text").attr("x", (plotLeft + plotRight) / 2).attr("y", L.labelY).attr("dy", "0.35em")
    .attr("text-anchor", "middle").attr("font-size", 18.5).attr("letter-spacing", 0.6).text("time in s");

  drawLegend(L.legendTop);
});
</script>
</body>
</html>
